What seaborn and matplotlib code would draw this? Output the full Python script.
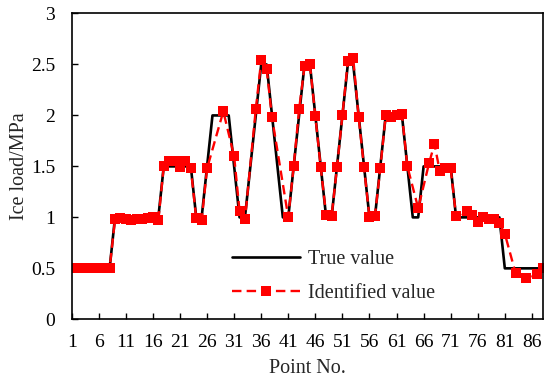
import numpy as np
import pandas as pd
import matplotlib
matplotlib.use("Agg")
import matplotlib.pyplot as plt
import seaborn as sns

# True ice load at each measuring point (points 1..88)
true_values = (
    [0.5] * 8 + [1.0] * 9 + [1.5] * 6 + [1.0] * 2 + [1.5] + [2.0] * 4
    + [1.5] + [1.0] * 2 + [1.5, 2.0, 2.5, 2.5, 2.0, 1.5] + [1.0] * 2
    + [1.5, 2.0, 2.5, 2.5, 2.0, 1.5] + [1.0] * 2
    + [1.5, 2.0, 2.5, 2.5, 2.0, 1.5] + [1.0] * 2
    + [1.5] + [2.0] * 4 + [1.5] + [1.0] * 2 + [1.5] * 6 + [1.0] * 9 + [0.5] * 8
)
true_points = list(range(1, len(true_values) + 1))

# Identified values (only the points that were identified)
ident_points = (
    list(range(1, 27)) + [29, 31, 32, 33, 35, 36, 37, 38]
    + list(range(41, 64)) + [65, 67, 68, 69, 70, 71, 72]
    + [74, 75, 76, 77, 78, 79, 80, 81, 83, 85, 87, 88]
)
ident_values = (
    [0.5] * 8
    + [0.98, 0.99, 0.98, 0.97, 0.98, 0.98, 0.99, 1.0, 0.97]
    + [1.50, 1.55, 1.55, 1.49, 1.55, 1.48]
    + [0.99, 0.97, 1.48]
    + [2.04]
    + [1.60, 1.06, 0.98]
    + [2.06, 2.54, 2.46, 1.98]
    + [1.00, 1.50, 2.06, 2.48, 2.50, 1.99, 1.49, 1.02, 1.01, 1.49, 2.00,
       2.53, 2.56, 1.98, 1.49, 1.00, 1.01]
    + [1.48, 2.00, 1.98, 2.00, 2.01, 1.50]
    + [1.09, 1.53, 1.72, 1.45, 1.48, 1.48, 1.01]
    + [1.06, 1.02, 0.95, 1.00, 0.98, 0.98, 0.94, 0.84]
    + [0.45, 0.41, 0.44, 0.50]
)

x_ticks = list(range(1, 87, 5))
y_ticks = [0, 0.5, 1, 1.5, 2, 2.5, 3]
y_tick_labels = ["0", "0.5", "1", "1.5", "2", "2.5", "3"]

true_df = pd.DataFrame({"point": true_points, "load": true_values})
ident_df = pd.DataFrame({"point": ident_points, "load": ident_values})

sns.set_style("ticks")
plt.rcParams["font.family"] = ["Liberation Serif", "DejaVu Serif"]
plt.rcParams["font.size"] = 14

fig = plt.figure(figsize=(5.45, 3.8), dpi=100)
ax = fig.add_axes([0.1316, 0.1597, 0.8642, 0.8048])

sns.lineplot(data=true_df, x="point", y="load", ax=ax, color="black",
             linewidth=1.9, label="True value")
sns.lineplot(data=ident_df, x="point", y="load", ax=ax, color="#ff0000",
             linewidth=1.7, linestyle=(0, (4, 2.2)), marker="s",
             markersize=6.5, markeredgewidth=0, label="Identified value")

ax.set_xlim(1, 88)
ax.set_ylim(0, 3)
ax.set_xticks(x_ticks)
ax.set_xticklabels([str(t) for t in x_ticks])
ax.set_yticks(y_ticks)
ax.set_yticklabels(y_tick_labels)
ax.tick_params(direction="in", length=4.5, width=1.0, colors="black",
               labelsize=14)
ax.tick_params(axis="x", pad=10.5)
ax.tick_params(axis="y", pad=12)
for side in ["left", "right", "top", "bottom"]:
    ax.spines[side].set_visible(True)
    ax.spines[side].set_color("black")
    ax.spines[side].set_linewidth(1.2)

ax.set_xlabel("Point No.", fontsize=14.5, labelpad=6)
ax.set_ylabel("Ice load/MPa", fontsize=14.5, labelpad=1.5)

ax.legend(loc="upper left", bbox_to_anchor=(0.340, 0.226), frameon=False,
          fontsize=14.5, handlelength=3.4, handletextpad=0.4,
          labelspacing=0.72, borderaxespad=0, borderpad=0)

fig.savefig("out.png", dpi=100)
